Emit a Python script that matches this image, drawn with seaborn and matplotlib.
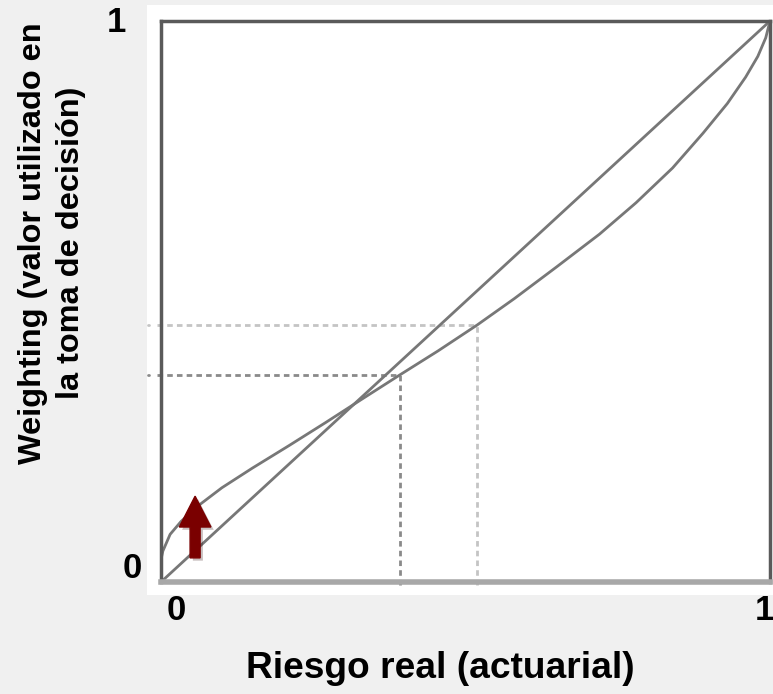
import numpy as np
import pandas as pd
import seaborn as sns
import matplotlib.pyplot as plt
from matplotlib.patches import Rectangle
import matplotlib.patheffects as pe

sns.set_theme(style="white")
plt.rcParams["font.family"] = ["Liberation Sans", "DejaVu Sans"]

# datos
riesgo = [0.0, 0.001, 0.003, 0.015, 0.033, 0.06, 0.10, 0.15, 0.21, 0.27, 0.33, 0.392, 0.455,
          0.519, 0.58, 0.65, 0.72, 0.78, 0.84, 0.89, 0.93, 0.96, 0.98, 0.993, 1.0]
weighting = [0.0, 0.045, 0.055, 0.085, 0.108, 0.135, 0.168, 0.203, 0.243, 0.284, 0.326, 0.369, 0.412,
             0.458, 0.505, 0.562, 0.620, 0.676, 0.738, 0.800, 0.853, 0.900, 0.937, 0.970, 1.0]
diag = [0.0, 1.0]

# puntos marcados con lineas punteadas
marca_x = [0.392, 0.519]
marca_y = [0.369, 0.458]
marca_color = ["#8a8a8a", "#c4c4c4"]

W, H = 773, 694
fig = plt.figure(figsize=(W / 100, H / 100), dpi=100)
fig.patch.set_facecolor("#f0f0f0")


def fx(px):
    return px / W


def fy(py):
    return 1 - py / H


# panel blanco detras del grafico
fig.patches.append(Rectangle((fx(147), fy(595)), fx(773) - fx(147), fy(5) - fy(595),
                             transform=fig.transFigure, facecolor="white", edgecolor="none", zorder=-5))

ax = fig.add_axes([fx(161), fy(582), fx(770) - fx(161), fy(21) - fy(582)])
ax.set_zorder(2)
ax.set_facecolor("white")
ax.set_xlim(0, 1)
ax.set_ylim(0, 1)

df_curve = pd.DataFrame({"riesgo": riesgo, "weighting": weighting})
df_diag = pd.DataFrame({"riesgo": diag, "weighting": diag})
sns.lineplot(data=df_diag, x="riesgo", y="weighting", ax=ax, color="#777777", lw=2)
sns.lineplot(data=df_curve, x="riesgo", y="weighting", ax=ax, color="#777777", lw=2, sort=True)

for mx, my, c in zip(marca_x, marca_y, marca_color):
    ax.plot([mx, mx], [-0.006, my], ls=(0, (2, 1.5)), color=c, lw=2, clip_on=False, zorder=1)
    ax.plot([-0.007, mx], [my, my], ls=(0, (2, 1.5)), color=c, lw=2, clip_on=False, zorder=1)
    ax.plot([-0.022, -0.019], [my, my], color=c, lw=2, clip_on=False)

# flecha roja
arr = ax.arrow(0.056, 0.043, 0, 0.110, width=0.0165, head_width=0.052, head_length=0.055,
               length_includes_head=True, color="#7a0000", zorder=5)
arr.set_path_effects([pe.SimplePatchShadow(offset=(2, -2), alpha=0.25), pe.Normal()])

for side in ["left", "top", "right"]:
    ax.spines[side].set_color("#5a5a5a")
    ax.spines[side].set_linewidth(2.5)
ax.spines["bottom"].set_color("#a8a8a8")
ax.spines["bottom"].set_linewidth(4)
ax.set_xticks([])
ax.set_yticks([])
ax.set_xlabel("")
ax.set_ylabel("")

tick_kw = dict(fontsize=25, fontweight="bold", color="black", ha="center", va="center")
fig.text(fx(176), fy(611), "0", **tick_kw)
fig.text(fx(764), fy(611), "1", **tick_kw)
fig.text(fx(132), fy(568), "0", **tick_kw)
fig.text(fx(116), fy(23), "1", **tick_kw)

fig.text(fx(440), fy(668), "Riesgo real (actuarial)", fontsize=26.7, fontweight="bold",
         color="black", ha="center", va="center")
fig.text(fx(52), fy(243), "Weighting (valor utilizado en\nla toma de decisión)", fontsize=23.4,
         fontweight="bold", color="black", ha="center", va="center", rotation=90,
         multialignment="center", linespacing=1.35)

fig.savefig("out.png", dpi=100, facecolor=fig.get_facecolor())
